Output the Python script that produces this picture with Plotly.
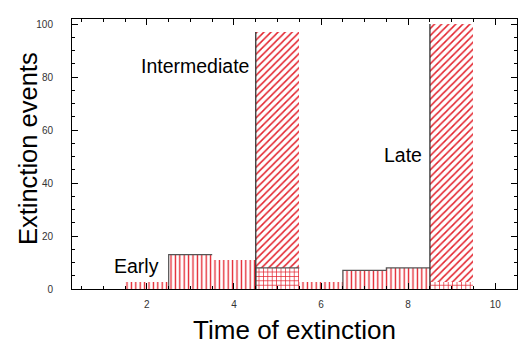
import plotly.graph_objects as go

# ---- data ----
bins = [2, 3, 4, 5, 6, 7, 8, 9]
early = [2.5, 13, 11, 8, 2.5, 7, 8, 2.5]
early_hatch = ['|', '|', '|', '+', '|', '|', '|', '+']
inter_bins = [5]
inter_vals = [97]
late_bins = [9]
late_vals = [100]
outlined_bins = [3, 5, 7, 8]
x_ticks = [2, 4, 6, 8, 10]
y_ticks = [0, 20, 40, 60, 80, 100]
labels = ["Early", "Intermediate", "Late"]
label_x = [2.33, 4.39, 8.37]
label_y = [8.8, 84.3, 50.6]

RED = "#e3222c"
W = 1.0

fig = go.Figure()

def hatched(xs, ys, shape, size):
    return go.Bar(
        x=xs, y=ys, width=W,
        marker=dict(color="white", line=dict(width=0),
                    pattern=dict(shape=shape, fgcolor=RED, fgopacity=1,
                                 fillmode="overlay", size=size, solidity=0.3)),
        showlegend=False, hoverinfo="skip")

fig.add_trace(hatched(inter_bins, inter_vals, "/", 5))
fig.add_trace(hatched(late_bins, late_vals, "/", 5))
fig.add_trace(hatched(bins, early, early_hatch, 4.4))

# step outline of the outlined early bins
h = dict(zip(bins, early))
ox, oy = [], []
for b in outlined_bins:
    prev = h[b - 1] if (b - 1) in outlined_bins else 0
    ox += [b - W / 2, b - W / 2, b + W / 2, None]
    oy += [prev, h[b], h[b], None]
fig.add_trace(go.Scatter(x=ox, y=oy, mode="lines",
                         line=dict(color="#555555", width=1.2),
                         showlegend=False, hoverinfo="skip"))

# left edges of the tall bars
ex, ey = [], []
for b, v in list(zip(inter_bins, inter_vals)) + list(zip(late_bins, late_vals)):
    ex += [b - W / 2, b - W / 2, None]
    ey += [0, v, None]
fig.add_trace(go.Scatter(x=ex, y=ey, mode="lines",
                         line=dict(color="#333333", width=1.3),
                         showlegend=False, hoverinfo="skip"))

for t, x, y in zip(labels, label_x, label_y):
    fig.add_annotation(x=x, y=y, text=t, showarrow=False, xanchor="right",
                       yanchor="middle",
                       font=dict(family="Liberation Sans, Arial", size=19.5, color="black"))

# y-axis title as a rotated annotation
fig.add_annotation(xref="paper", yref="paper", x=-0.1, y=0.52,
                   text="Extinction events", textangle=-90, showarrow=False,
                   xanchor="center", yanchor="middle",
                   font=dict(family="Liberation Sans, Arial", size=25.5, color="black"))

axis_common = dict(
    showline=True, linecolor="black", linewidth=1, mirror="allticks",
    ticks="inside", ticklen=6, tickcolor="black", tickwidth=1,
    showgrid=False, zeroline=False,
    tickfont=dict(family="Liberation Sans, Arial", size=10, color="#333333"),
)

fig.update_xaxes(**axis_common, range=[0.28, 10.5], tickvals=x_ticks,
                 minor=dict(dtick=0.5, tick0=0, ticks="inside", ticklen=3,
                            tickcolor="black", showgrid=False),
                 title_text="Time of extinction", title_standoff=11,
                 title_font=dict(family="Liberation Sans, Arial", size=26, color="black"),
                 ticklabelstandoff=6)
fig.update_yaxes(**axis_common, range=[0, 101.9], tickvals=y_ticks,
                 minor=dict(dtick=5, tick0=0, ticks="inside", ticklen=3,
                            tickcolor="black", showgrid=False),
                 ticklabelstandoff=16)

fig.update_layout(
    width=518, height=348, barmode="overlay", bargap=0,
    margin=dict(l=72, r=1, t=19, b=59),
    plot_bgcolor="white", paper_bgcolor="white",
)

fig.write_html("out.html")
